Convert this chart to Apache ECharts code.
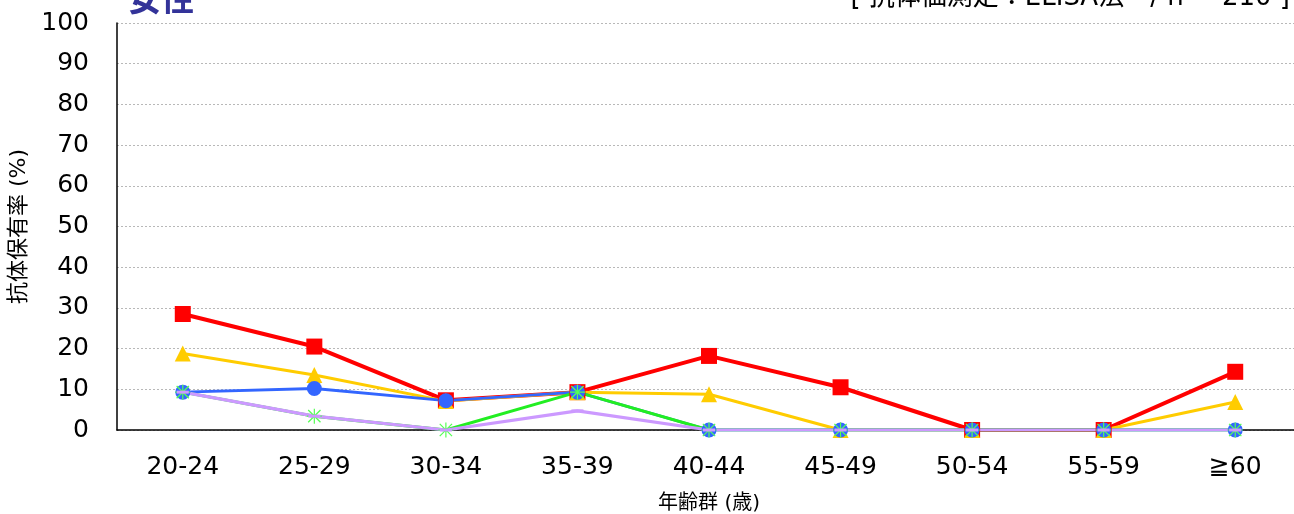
<!DOCTYPE html>
<html><head><meta charset="utf-8">
<script src="https://cdn.jsdelivr.net/npm/echarts@6/dist/echarts.min.js"></script>
<style>html,body{margin:0;padding:0;background:#fff;overflow:hidden}#c{width:1294px;height:514px}</style>
</head><body><div id="c"></div>
<script>
const categories = ['20-24','25-29','30-34','35-39','40-44','45-49','50-54','55-59','≧60'];
const yTicks = [0,10,20,30,40,50,60,70,80,90,100];
const seriesNames = ['A','B','C','D','E'];
const redVals    = [28.5, 20.5, 7.3, 9.3, 18.2, 10.5, 0, 0, 14.3];
const yellowVals = [18.8, 13.5, 7.1, 9.3, 8.8, 0, 0, 0, 6.9];
const blueVals   = [9.3, 10.2, 7.2, 9.3, 0, 0, 0, 0, 0];
const greenVals  = [9.3, 3.4, 0, 9.3, 0, 0, 0, 0, 0];
const purpleVals = [9.3, 3.4, 0, 4.7, 0, 0, 0, 0, 0];

const asterisk = 'path://M4.6 0h0.8v10h-0.8z M0 4.6h10v0.8h-10z M1.2 0.6L9.4 8.8L8.8 9.4L0.6 1.2z M8.8 0.6L9.4 1.2L1.2 9.4L0.6 8.8z';
const fam = '"DejaVu Sans", "Noto Sans CJK JP", sans-serif';

const chart = echarts.init(document.getElementById('c'));
function mk(name, data, color, width, symbol, size, extra) {
  return Object.assign({
    name, type: 'line', data, symbol, symbolSize: size, showAllSymbol: true,
    lineStyle: { color, width }, itemStyle: { color },
    animation: false
  }, extra || {});
}
chart.setOption({
  animation: false,
  title: {
    text: '女性', left: 123, top: -19,
    textStyle: { color: '#333399', fontSize: 33, fontWeight: 'bold', fontFamily: fam }
  },
  graphic: [{
    type: 'text', right: 4, top: -15,
    style: { text: '[ 抗体価測定：ELISA法　/ n = 210 ]', fill: '#000', font: '26px ' + fam }
  }],
  grid: { left: 117, top: 23, width: 1184, height: 407, outerBoundsMode: 'none', containLabel: false },
  xAxis: {
    type: 'category', data: categories, boundaryGap: true,
    axisLine: { lineStyle: { color: '#000', width: 1.5 } },
    axisTick: { show: false },
    axisLabel: { color: '#000', fontSize: 25, fontFamily: fam, margin: 25 },
    name: '年齢群 (歳)', nameLocation: 'middle', nameGap: 64,
    nameTextStyle: { color: '#000', fontSize: 20, fontFamily: fam }
  },
  yAxis: {
    type: 'value', min: yTicks[0], max: yTicks[yTicks.length - 1], interval: 10,
    axisLine: { show: true, lineStyle: { color: '#000', width: 1.5 } },
    axisTick: { show: false },
    axisLabel: { color: '#000', fontSize: 25, fontFamily: fam, margin: 28 },
    splitLine: { show: true, lineStyle: { color: '#b8b8b8', type: [2, 2], width: 1 } },
    name: '抗体保有率 (%)', nameLocation: 'middle', nameGap: 81, nameRotate: 90,
    nameTextStyle: { color: '#000', fontSize: 22, fontFamily: fam }
  },
  series: [
    mk(seriesNames[0], redVals, '#ff0000', 4, 'rect', 16),
    mk(seriesNames[1], yellowVals, '#ffcc00', 3, 'triangle', 16),
    mk(seriesNames[2], blueVals, '#3366ff', 2.8, 'circle', 15),
    mk(seriesNames[3], greenVals, '#22ee22', 3, asterisk, 15, { itemStyle: { color: '#55ff55' } }),
    mk(seriesNames[4], purpleVals, '#cc99ff', 3.2, 'rect', [12, 3])
  ]
});
</script></body></html>
